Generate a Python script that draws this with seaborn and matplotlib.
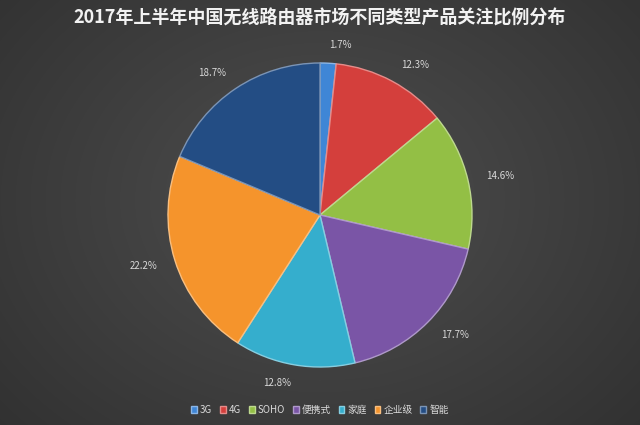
import numpy as np
import seaborn as sns
import matplotlib.pyplot as plt
import matplotlib.colors as mcolors

categories = ["3G", "4G", "SOHO", "便携式", "家庭", "企业级", "智能"]
shares = [1.7, 12.3, 14.6, 17.7, 12.8, 22.2, 18.7]
colors = ["#3f86d6", "#d43f3c", "#93bf45", "#7a55a6", "#35aecd", "#f5942c", "#234d84"]
title = "2017年上半年中国无线路由器市场不同类型产品关注比例分布"

sns.set_style("dark")
plt.rcParams["font.family"] = ["Noto Sans CJK SC", "DejaVu Sans"]

fig = plt.figure(figsize=(6.4, 4.25), dpi=100)

# dark radial background, lighter in the middle
bg = fig.add_axes([0, 0, 1, 1], zorder=0)
yy, xx = np.mgrid[0:425, 0:640]
r = np.sqrt(((xx - 320) / 420) ** 2 + ((yy - 200) / 330) ** 2)
shade = np.clip(0.31 - 0.11 * r, 0.17, 0.31)
bg.imshow(shade, cmap="gray", vmin=0, vmax=1, aspect="auto", extent=[0, 1, 0, 1])
bg.set_axis_off()

ax = fig.add_axes([168 / 640, 1 - 367 / 425, 304 / 640, 304 / 425], zorder=1)
ax.set_facecolor("none")
edge = [mcolors.to_hex(np.array(mcolors.to_rgb(c)) * 0.6 + 0.4) for c in colors]
wedges, texts = ax.pie(
    shares, colors=colors, startangle=90, counterclock=False,
    labels=[f"{v}%" for v in shares], labeldistance=1.12,
    wedgeprops=dict(linewidth=1.0),
    textprops=dict(color="#d9d9d9", fontsize=7),
)
for w, e in zip(wedges, edge):
    w.set_edgecolor(e)
for t in texts:
    t.set_clip_on(False)
ax.set_xlim(-1, 1)
ax.set_ylim(-1, 1)
ax.set_aspect("auto")

fig.text(0.5, 1 - 18 / 425, title, ha="center", va="center",
         color="#f2f2f2", fontsize=13, fontweight="bold")

handles = [plt.Rectangle((0, 0), 1, 1, facecolor=c, edgecolor=e) for c, e in zip(colors, edge)]
fig.legend(handles, categories, loc="center", bbox_to_anchor=(0.5, 1 - 410 / 425),
           ncol=7, frameon=False, fontsize=7, labelcolor="#d9d9d9",
           handlelength=0.6, handleheight=0.6, handletextpad=0.3, columnspacing=0.8)

fig.savefig("out.png", dpi=100)
